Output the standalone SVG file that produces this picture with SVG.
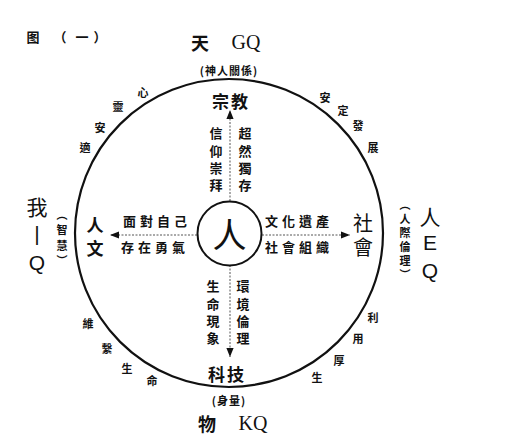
<svg xmlns="http://www.w3.org/2000/svg" width="520" height="436" viewBox="0 0 520 436">
<style>
text{font-family:"Noto Sans CJK TC","Noto Sans CJK SC",sans-serif;fill:#111;text-anchor:middle;dominant-baseline:central}
.b{font-weight:bold}
.main{font-size:17px;font-weight:bold;letter-spacing:2px}
.sub{font-size:13px;font-weight:bold}
.arc{font-size:11px;font-weight:bold}
.lat{font-family:"Liberation Serif",serif;font-size:20px}
.sans{font-family:"Liberation Sans","Noto Sans CJK TC",sans-serif;font-size:21px}
.small{font-size:11px;font-weight:bold}
.ln{stroke:#555;stroke-width:1;stroke-dasharray:2 1.5;fill:none}
</style>
<defs>
<marker id="ah" viewBox="0 0 10 10" refX="10" refY="5" markerWidth="9" markerHeight="9" markerUnits="userSpaceOnUse" orient="auto">
<path d="M0,1 L10,5 L0,9 Z" fill="#111"/>
</marker>
</defs>
<rect width="520" height="436" fill="#fff"/>
<g id="title"><text class="b" font-size="13" x="33 60 82 100" y="36">图（一）</text></g>
<g id="circles">
<circle cx="229" cy="233" r="154" fill="none" stroke="#111" stroke-width="2.2"/>
</g>
<g id="connectors">
<line class="ln" x1="230" y1="201" x2="230" y2="110" marker-end="url(#ah)"/>
<line class="ln" x1="230" y1="265" x2="230" y2="357" marker-end="url(#ah)"/>
<line class="ln" x1="197" y1="235" x2="110" y2="235" marker-end="url(#ah)"/>
<line class="ln" x1="262" y1="235" x2="350" y2="235" marker-end="url(#ah)"/>
</g>
<g id="center">
<circle cx="229.5" cy="233.5" r="32" fill="#fff" stroke="#111" stroke-width="2"/>
<text x="229.5" y="233" font-size="34">人</text>
</g>
<g id="top">
<text class="b" font-size="18" x="200" y="42">天</text>
<text class="lat" x="246" y="42">GQ</text>
<text class="small" x="229" y="70" style="letter-spacing:1px">(神人關係)</text>
<text class="main" x="231" y="100">宗教</text>
<text class="sub" x="216" y="132">信</text><text class="sub" x="216" y="150">仰</text><text class="sub" x="216" y="167">崇</text><text class="sub" x="216" y="184">拜</text>
<text class="sub" x="245" y="132">超</text><text class="sub" x="245" y="150">然</text><text class="sub" x="245" y="167">獨</text><text class="sub" x="245" y="184">存</text>
</g>
<g id="bottom">
<text class="sub" x="213" y="285">生</text><text class="sub" x="213" y="303">命</text><text class="sub" x="213" y="320">現</text><text class="sub" x="213" y="337">象</text>
<text class="sub" x="243" y="285">環</text><text class="sub" x="243" y="303">境</text><text class="sub" x="243" y="320">倫</text><text class="sub" x="243" y="337">理</text>
<text class="main" x="227" y="373">科技</text>
<text class="small" x="229" y="400" style="letter-spacing:1px">(身量)</text>
<text class="b" font-size="18" x="207" y="423">物</text>
<text class="lat" x="253" y="423">KQ</text>
</g>
<g id="left">
<text class="sub" x="157" y="220" style="letter-spacing:4px">面對自己</text>
<text class="sub" x="155" y="246" style="letter-spacing:4px">存在勇氣</text>
<text class="b" font-size="17" x="95" y="224">人</text>
<text class="b" font-size="17" x="95" y="247">文</text>
<text class="small" x="62" y="214">︵</text>
<text class="small" x="62" y="229">智</text>
<text class="small" x="62" y="245">慧</text>
<text class="small" x="62" y="260">︶</text>
<text class="sans" x="37" y="207">我</text>
<text class="sans" x="37" y="233">|</text>
<text class="sans" x="37" y="262">Q</text>
</g>
<g id="right">
<text class="sub" x="299" y="220" style="letter-spacing:4px">文化遺產</text>
<text class="sub" x="299" y="246" style="letter-spacing:4px">社會組織</text>
<text font-size="20" x="363" y="222">社</text>
<text font-size="20" x="363" y="246">會</text>
<text class="small" x="405" y="204">︵</text>
<text class="small" x="405" y="218">人</text>
<text class="small" x="405" y="232">際</text>
<text class="small" x="405" y="246">倫</text>
<text class="small" x="405" y="260">理</text>
<text class="small" x="405" y="274">︶</text>
<text class="sans" x="430" y="217">人</text>
<text class="sans" x="430" y="242">E</text>
<text class="sans" x="430" y="270">Q</text>
</g>
<g id="arclabels">
<text class="arc" x="143" y="92">心</text><text class="arc" x="118" y="106">靈</text><text class="arc" x="100" y="127">安</text><text class="arc" x="85" y="147">適</text>
<text class="arc" x="325" y="97">安</text><text class="arc" x="343" y="110">定</text><text class="arc" x="358" y="125">發</text><text class="arc" x="373" y="147">展</text>
<text class="arc" x="88" y="323">維</text><text class="arc" x="107" y="348">繫</text><text class="arc" x="127" y="368">生</text><text class="arc" x="152" y="380">命</text>
<text class="arc" x="373" y="317">利</text><text class="arc" x="358" y="338">用</text><text class="arc" x="339" y="360">厚</text><text class="arc" x="317" y="377">生</text>
</g>
</svg>
